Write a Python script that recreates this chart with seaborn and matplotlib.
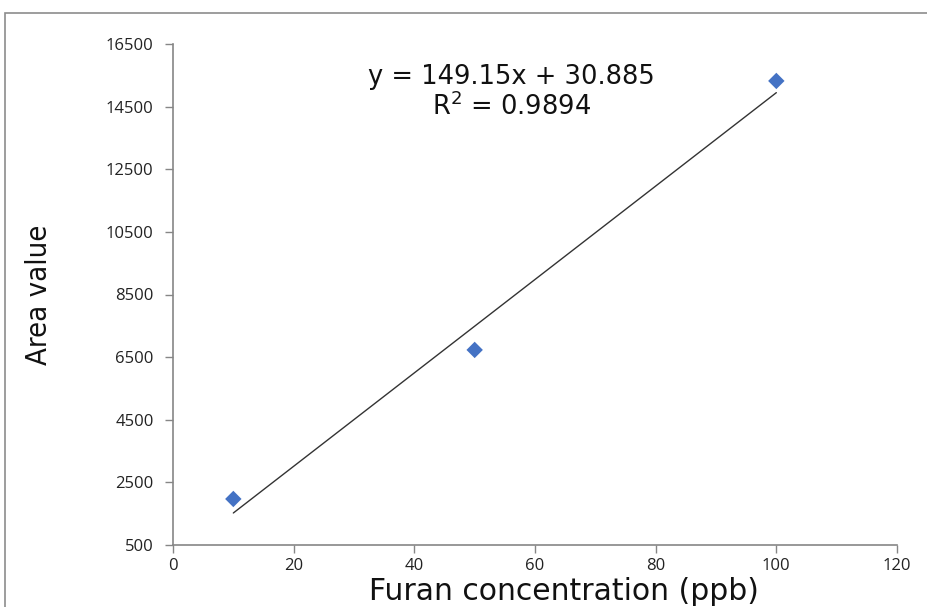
import numpy as np
import pandas as pd
import matplotlib
matplotlib.use("Agg")
import matplotlib.pyplot as plt
import seaborn as sns
from matplotlib.patches import Rectangle

# data
conc = [10, 50, 100]
area = [1970, 6730, 15320]
slope = 149.15
intercept = 30.885
r2 = 0.9894

xticks = [0, 20, 40, 60, 80, 100, 120]
yticks = [500, 2500, 4500, 6500, 8500, 10500, 12500, 14500, 16500]

sns.set_style("white")
plt.rcParams['font.family'] = ['Open Sans', 'DejaVu Sans']

df = pd.DataFrame({"conc": conc, "area": area})

fig = plt.figure(figsize=(9.28, 6.07), dpi=100)
ax = fig.add_axes([173 / 928, 1 - 545 / 607, (897 - 173) / 928, (545 - 44) / 607])

# outer chart-area border
fig.patches.append(Rectangle((5 / 928, -0.05), 1.0, 1 - 13 / 607 + 0.05,
                             transform=fig.transFigure, fill=False,
                             edgecolor='#8c8c8c', linewidth=1.2))

sns.scatterplot(data=df, x="conc", y="area", marker='D', s=70,
                color='#4472C4', edgecolor='none', ax=ax, zorder=3)

xfit = np.array([min(conc), max(conc)])
ax.plot(xfit, slope * xfit + intercept, color='#333333', lw=1.0, zorder=2)

ax.set_xlim(0, 120)
ax.set_ylim(500, 16500)
ax.set_xticks(xticks)
ax.set_yticks(yticks)
ax.tick_params(axis='both', direction='out', length=6, width=1,
               color='#868686', labelsize=12, labelcolor='#222222',
               bottom=True, left=True)
ax.tick_params(axis='x', pad=3)
ax.tick_params(axis='y', pad=8)

for s in ['top', 'right']:
    ax.spines[s].set_visible(False)
for s in ['left', 'bottom']:
    ax.spines[s].set_color('#868686')
    ax.spines[s].set_linewidth(1.2)

ax.set_xlabel("Furan concentration (ppb)", fontsize=21.5,
              color='#111111', family='DejaVu Sans')
ax.xaxis.set_label_coords(0.54, -0.064)
ax.set_ylabel("Area value", fontsize=21, labelpad=38, color='#111111',
              family='DejaVu Sans', fontstretch='condensed')

ax.text(0.468, 0.935, f"y = {slope}x + {intercept}", transform=ax.transAxes,
        ha='center', va='center', fontsize=18.5, color='#111111',
        family='DejaVu Sans')
ax.text(0.468, 0.875, f"R$^2$ = {r2}", transform=ax.transAxes,
        ha='center', va='center', fontsize=18.5, color='#111111',
        family='DejaVu Sans')

fig.savefig("out.png", dpi=100)
